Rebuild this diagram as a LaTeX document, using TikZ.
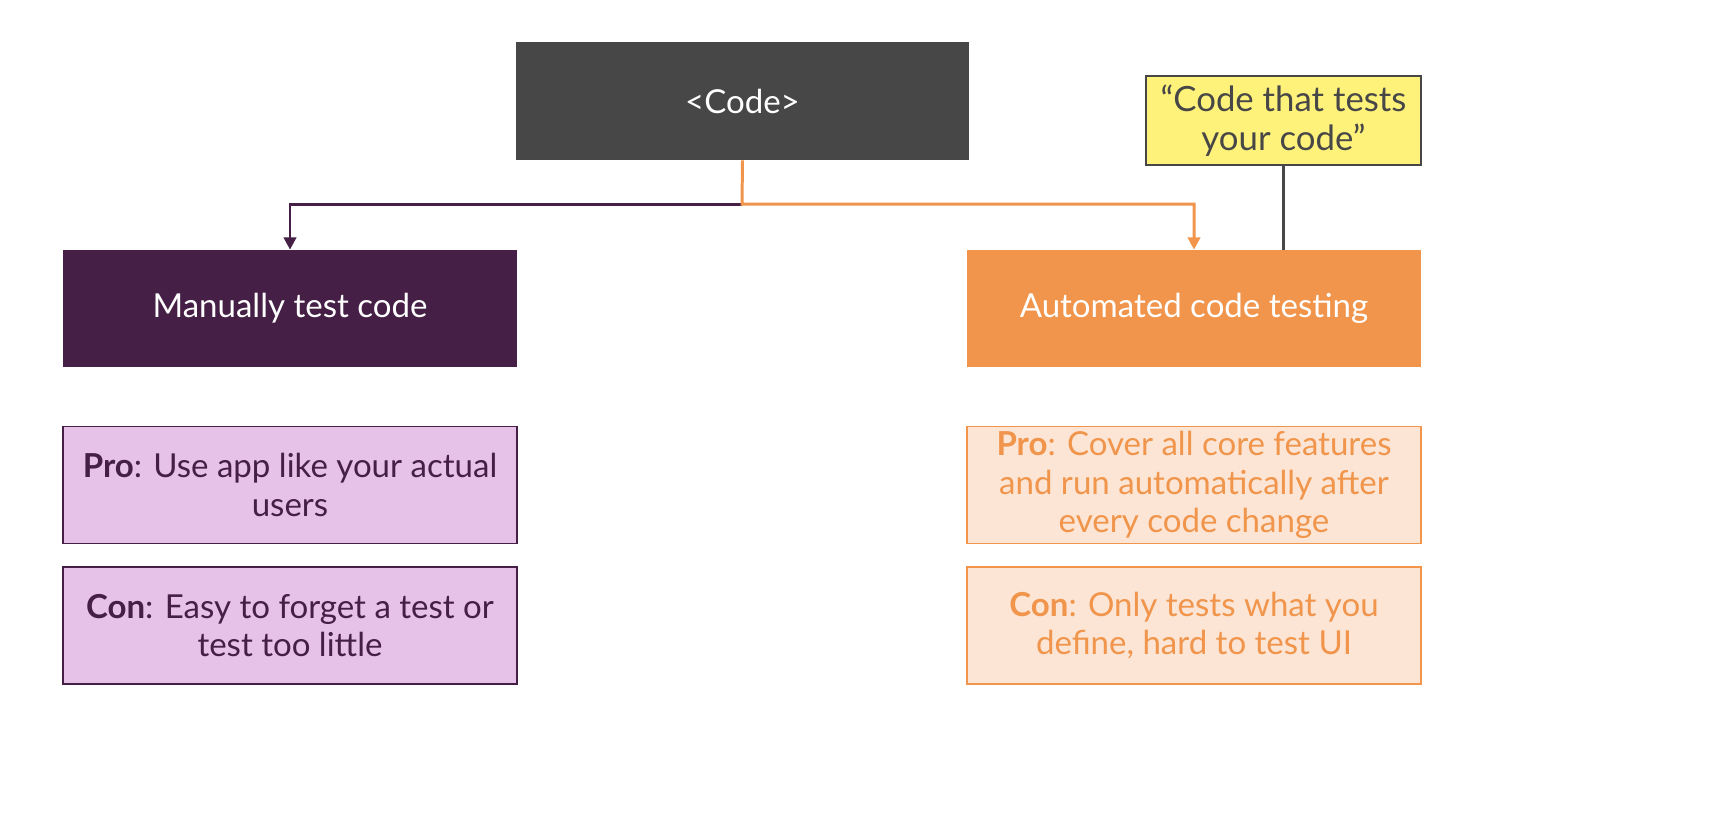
\documentclass[tikz,border=0pt]{standalone}
\usepackage{fontspec}
\setmainfont{Lato}
\usetikzlibrary{arrows.meta}
\definecolor{codegray}{HTML}{474747}
\definecolor{noteyellow}{HTML}{FFF27A}
\definecolor{plum}{HTML}{451F45}
\definecolor{tangerine}{HTML}{F0954B}
\definecolor{lilac}{HTML}{E6C1E8}
\definecolor{peach}{HTML}{FCE5D4}
\tikzset{
  box/.style={rectangle,inner sep=0pt,minimum width=9.08cm,minimum height=2.34cm,align=center,font=\fontsize{18.8}{22}\selectfont},
  headbox/.style={box,text=white},
  probox/.style={box,draw=plum,line width=1.1pt,fill=lilac,text=plum},
  autobox/.style={box,draw=tangerine,line width=1.1pt,fill=peach,text=tangerine},
  link/.style={line width=1.7pt,-{Triangle[length=7pt,width=7pt]}}
}
\begin{document}
\begin{tikzpicture}[x=0.02cm,y=-0.02cm]
  \useasboundingbox (0,0) rectangle (1724,816);
  \node[headbox,fill=codegray,minimum width=9.06cm,minimum height=2.36cm] (code) at (742.5,101) {<Code>};
  \node[box,draw=codegray,line width=1.1pt,fill=noteyellow,text=codegray,minimum width=5.5cm,minimum height=1.78cm,font=\fontsize{19.8}{22}\selectfont] (note) at (1283.5,120.5) {“Code that tests\\your code”};
  \node[headbox,fill=plum] (manual) at (290,308.5) {Manually test code};
  \node[headbox,fill=tangerine] (auto) at (1194,308.5) {Automated code testing};
  \node[probox] (manpro) at (290,485) {\textbf{Pro}: Use app like your actual\\users};
  \node[probox] (mancon) at (290,625.5) {\textbf{Con}: Easy to forget a test or\\test too little};
  \node[autobox] (autopro) at (1194,485) {\textbf{Pro}: Cover all core features\\and run automatically after\\every code change};
  \node[autobox] (autocon) at (1194,625.5) {\textbf{Con}: Only tests what you\\define, hard to test UI};
  \coordinate (split) at (742,204);
  \draw[link,plum] (split) -| (manual.north);
  \draw[link,tangerine] (code.south) -- (split) -| (auto.north);
  \draw[line width=1.7pt,codegray] (note.south) -- (note.south |- auto.north);
\end{tikzpicture}
\end{document}
